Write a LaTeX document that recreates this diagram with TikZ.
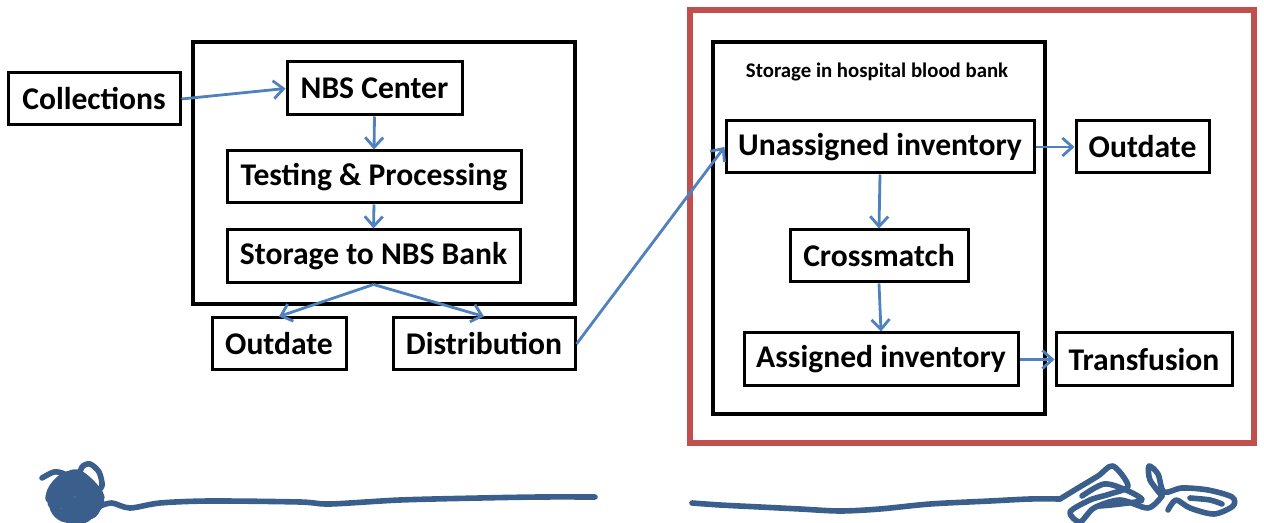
\documentclass[tikz,border=0pt]{standalone}
\usepackage{fontspec}
\setmainfont{Carlito}
\usepackage{tikz}
\usetikzlibrary{arrows.meta}

\definecolor{flowblue}{RGB}{79,129,189}
\definecolor{inkblue}{RGB}{58,95,140}
\definecolor{frame red}{RGB}{192,80,77}

\begin{document}
\begin{tikzpicture}[x=0.5pt, y=-0.5pt,
    box/.style={draw=black, line width=1.5pt, minimum height=26pt, inner sep=0pt, font=\fontsize{15.8}{18}\selectfont\bfseries},
    frame/.style={draw=black, line width=2pt, inner sep=0pt},
    flow/.style={-{Straight Barb[length=5pt, width=9pt, line width=1.4pt]}, flowblue, line width=1.4pt},
    scribble/.style={inkblue, line width=2.8pt, line cap=round, line join=round}]
    \useasboundingbox (0,0) rectangle (1264,523);

    %Frames
    \node[frame, minimum width=191pt, minimum height=131pt] at (384,173) (nbsbox) {};
    \node[draw=frame red, line width=3.3pt, inner sep=0pt, minimum width=282pt, minimum height=216.5pt] at (972,226.5) (hospital) {};
    \node[frame, minimum width=166pt, minimum height=186pt] at (879,228) (bank) {};
    \node[font=\fontsize{10.4}{12}\selectfont\bfseries] at (877,72) (banktitle) {Storage in hospital blood bank};

    %Nodes
    \node[box, minimum width=86pt] at (94,99) (coll) {Collections};
    \node[box, minimum width=87.5pt, minimum height=26.5pt] at (374.5,88.5) (nbs) {NBS Center};
    \node[box, minimum width=147pt] at (374,177) (test) {Testing \& Processing};
    \node[box, minimum width=146.5pt, minimum height=26.5pt] at (373.5,256.5) (store) {Storage to NBS Bank};
    \node[box, minimum width=67pt] at (279,344) (outl) {Outdate};
    \node[box, minimum width=91pt] at (484,344) (dist) {Distribution};

    \node[box, minimum width=154pt] at (880,147) (unas) {Unassigned inventory};
    \node[box, minimum width=66.5pt] at (1142.5,147) (outr) {Outdate};
    \node[box, minimum width=89pt] at (879,256) (cross) {Crossmatch};
    \node[box, minimum width=137pt, minimum height=26.5pt] at (881,359.5) (assg) {Assigned inventory};
    \node[box, minimum width=88pt, minimum height=26.5pt] at (1144,359.5) (trans) {Transfusion};

    %Lines
    \draw[flow] (coll.east) -- (nbs.west);
    \draw[flow] (nbs.south) -- (test.north);
    \draw[flow] (test.south) -- (store.north);
    \draw[flow] (store.south) -- (outl.north);
    \draw[flow] (store.south) -- (dist.north);
    \draw[flow] (dist.east) -- (unas.west);
    \draw[flow] (unas.east) -- (outr.west);
    \draw[flow] (unas.south) -- (cross.north);
    \draw[flow] (cross.south) -- (assg.north);
    \draw[flow] (assg.east) -- (trans.west);

    %Scribbles
    \draw[scribble] plot[smooth, samples=400, domain=0:5400]
        ({75+(15+12*sin(1.37*\x))*cos(\x)}, {497+(14+11*cos(1.71*\x))*sin(\x)});
    \draw[scribble] plot[smooth] coordinates {(42,478) (54,472) (64,474) (68,482)};
    \draw[scribble] plot[smooth] coordinates {(78,480) (82,467) (90,464) (99,472) (102,486) (95,493)};
    \draw[scribble] plot[smooth] coordinates {(100,506) (112,503) (130,508) (160,503) (210,501) (300,502) (330,504) (400,500) (480,498) (540,497) (595,497)};

    \draw[scribble] plot[smooth] coordinates {(692,503) (720,505) (760,507) (800,509) (840,511) (880,509) (930,504) (990,501) (1030,499) (1060,499)};
    \draw[scribble] plot[smooth] coordinates {(1060,499) (1078,488) (1098,476) (1113,466) (1128,486) (1110,494) (1090,500) (1070,512) (1080,522) (1094,508) (1120,500) (1148,508) (1162,496)};
    \draw[scribble] plot[smooth] coordinates {(1162,496) (1150,480) (1149,466) (1158,474) (1164,492) (1182,488) (1208,490) (1232,497) (1233,506) (1214,514) (1190,508) (1176,500) (1168,510)};
    \draw[scribble] plot[smooth] coordinates {(1082,496) (1104,484) (1126,490) (1142,500) (1120,504) (1100,506)};
    \draw[scribble] plot[smooth] coordinates {(1190,498) (1210,500) (1222,504)};
\end{tikzpicture}
\end{document}
